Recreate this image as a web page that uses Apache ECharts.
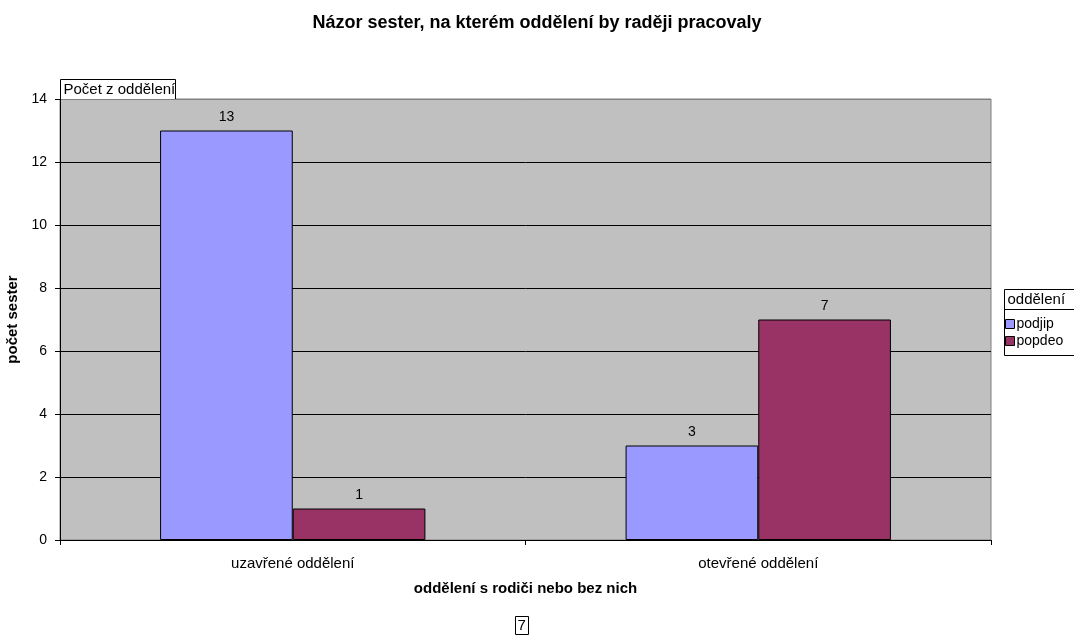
<!DOCTYPE html>
<html>
<head>
<meta charset="utf-8">
<script src="https://cdn.jsdelivr.net/npm/echarts@6/dist/echarts.min.js"></script>
<style>
  html, body { margin: 0; padding: 0; background: #fff; }
  #chart { width: 1074px; height: 639px; }
</style>
</head>
<body>
<div id="chart"></div>
<script>
// Categories on the x axis and counts per department type
const categories = ['uzavřené oddělení', 'otevřené oddělení'];
const podjip = [13, 3];
const popdeo = [1, 7];
const yTicks = { min: 0, max: 14, interval: 2 };

const FONT = '"Liberation Sans", Arial, sans-serif';

const chart = echarts.init(document.getElementById('chart'));

const barLabel = {
  show: true,
  position: 'top',
  distance: 6,
  color: '#000',
  fontFamily: FONT,
  fontSize: 14
};

chart.setOption({
  animation: false,
  title: {
    text: 'Názor sester, na kterém oddělení by raději pracovaly',
    left: 'center',
    top: 9,
    textStyle: { fontFamily: FONT, fontSize: 18, fontWeight: 'bold', color: '#000' }
  },
  grid: {
    left: 60, right: 83, top: 99, bottom: 99,
    outerBoundsMode: 'none',
    containLabel: false,
    show: true,
    backgroundColor: '#C0C0C0',
    borderColor: '#808080',
    borderWidth: 1
  },
  legend: {
    orient: 'vertical',
    left: 1000,
    top: 312,
    itemWidth: 9,
    itemHeight: 9,
    itemGap: 3,
    icon: 'rect',
    itemStyle: { borderColor: '#000', borderWidth: 1 },
    textStyle: { fontFamily: FONT, fontSize: 14, color: '#000', padding: [0, 0, 0, -3] },
    data: ['podjip', 'popdeo']
  },
  xAxis: {
    type: 'category',
    data: categories,
    name: 'oddělení s rodiči nebo bez nich',
    nameLocation: 'middle',
    nameGap: 41,
    nameTextStyle: { fontFamily: FONT, fontSize: 15, fontWeight: 'bold', color: '#000' },
    axisLine: { lineStyle: { color: '#000', width: 1 } },
    axisTick: { show: true, length: 5, lineStyle: { color: '#000' } },
    axisLabel: { fontFamily: FONT, fontSize: 15, color: '#000', margin: 16 }
  },
  yAxis: {
    type: 'value',
    min: yTicks.min,
    max: yTicks.max,
    interval: yTicks.interval,
    name: 'počet sester',
    nameLocation: 'middle',
    nameGap: 35,
    nameTextStyle: { fontFamily: FONT, fontSize: 15, fontWeight: 'bold', color: '#000' },
    axisLine: { show: true, lineStyle: { color: '#000', width: 1 } },
    axisTick: { show: true, length: 5, lineStyle: { color: '#000' } },
    axisLabel: { fontFamily: FONT, fontSize: 14, color: '#000', margin: 13 },
    splitLine: {
      show: true,
      lineStyle: { color: ['#000', '#000', '#000', '#000', '#000', '#000', '#000', '#808080'], width: 1 }
    }
  },
  series: [
    {
      name: 'podjip',
      type: 'bar',
      data: podjip,
      barGap: '0%',
      barCategoryGap: '43%',
      itemStyle: { color: '#9999FF', borderColor: '#000', borderWidth: 1 },
      label: barLabel
    },
    {
      name: 'popdeo',
      type: 'bar',
      data: popdeo,
      itemStyle: { color: '#993366', borderColor: '#000', borderWidth: 1 },
      label: barLabel
    }
  ],
  graphic: [
    // caption box above the plot area
    {
      type: 'group',
      left: 60, top: 79,
      children: [
        { type: 'rect', shape: { x: 0, y: 0, width: 115, height: 20 },
          style: { fill: '#fff', stroke: '#000', lineWidth: 1 } },
        { type: 'text', x: 3, y: 3,
          style: { text: 'Počet z oddělení', font: '15px ' + FONT, fill: '#000' } }
      ]
    },
    // legend frame with header
    {
      type: 'group',
      left: 1002, top: 287,
      children: [
        { type: 'rect', shape: { x: 0, y: 0, width: 71, height: 66 },
          style: { fill: 'none', stroke: '#000', lineWidth: 1 } },
        { type: 'line', shape: { x1: 0, y1: 20, x2: 71, y2: 20 },
          style: { stroke: '#000', lineWidth: 1 } },
        { type: 'text', x: 3, y: 3,
          style: { text: 'oddělení', font: '15px ' + FONT, fill: '#000' } }
      ]
    },
    // page number box at the bottom
    {
      type: 'group',
      left: 515, top: 616,
      children: [
        { type: 'rect', shape: { x: 0, y: 0, width: 13, height: 18 },
          style: { fill: '#fff', stroke: '#000', lineWidth: 1 } },
        { type: 'text', x: 2, y: 2,
          style: { text: '7', font: '15px ' + FONT, fill: '#000' } }
      ]
    }
  ]
});
</script>
</body>
</html>
